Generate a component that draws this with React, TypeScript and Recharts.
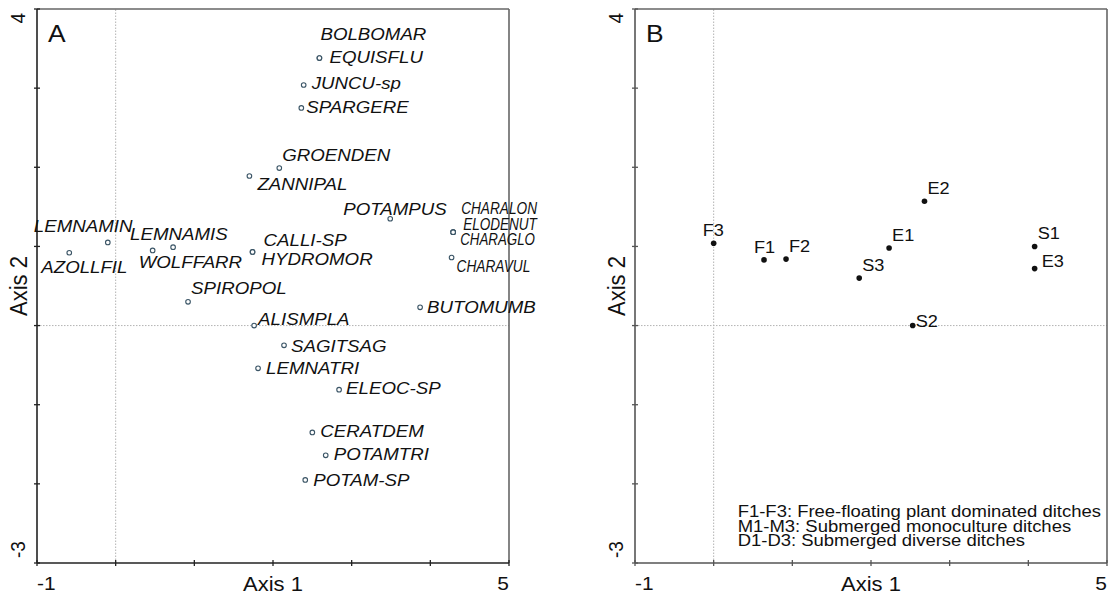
import { ScatterChart, Scatter, XAxis, YAxis, ReferenceLine } from 'recharts';

// Ordination scores, species (panel A)
const speciesNames = [
  'BOLBOMAR', 'EQUISFLU', 'JUNCU-sp', 'SPARGERE', 'GROENDEN', 'ZANNIPAL', 'POTAMPUS',
  'CHARALON', 'ELODENUT', 'CHARAGLO', 'CHARAVUL', 'LEMNAMIN', 'AZOLLFIL', 'LEMNAMIS',
  'WOLFFARR', 'CALLI-SP', 'HYDROMOR', 'SPIROPOL', 'BUTOMUMB', 'ALISMPLA', 'SAGITSAG',
  'LEMNATRI', 'ELEOC-SP', 'CERATDEM', 'POTAMTRI', 'POTAM-SP',
];
const speciesAxis1 = [
  2.59, 2.59, 2.39, 2.36, 2.08, 1.70, 3.49, 4.29, 4.29, 4.29, 4.27, -0.10, -0.59, 0.73,
  0.47, 1.74, 1.74, 0.92, 3.87, 1.76, 2.14, 1.81, 2.84, 2.50, 2.67, 2.41,
];
const speciesAxis2 = [
  3.38, 3.38, 3.04, 2.75, 1.99, 1.89, 1.35, 1.18, 1.18, 1.18, 0.86, 1.05, 0.92, 0.99,
  0.95, 0.93, 0.93, 0.30, 0.23, 0.00, -0.25, -0.54, -0.81, -1.35, -1.64, -1.95,
];

// Ordination scores, sites (panel B)
const siteNames = ['F1', 'F2', 'F3', 'E1', 'E2', 'E3', 'S1', 'S2', 'S3'];
const siteAxis1 = [0.64, 0.92, 0.0, 2.23, 2.68, 4.08, 4.08, 2.53, 1.85];
const siteAxis2 = [0.83, 0.84, 1.04, 0.98, 1.57, 0.72, 1.00, 0.0, 0.60];

const xTicks = [-1, 0, 1, 2, 3, 4, 5];
const yTicks = [-3, -2, -1, 0, 1, 2, 3, 4];

const legendLines = [
  'F1-F3: Free-floating plant dominated ditches',
  'M1-M3: Submerged monoculture ditches',
  'D1-D3: Submerged diverse ditches',
];

const speciesData = speciesNames.map((name, i) => ({ name, x: speciesAxis1[i], y: speciesAxis2[i] }));
const siteData = siteNames.map((name, i) => ({ name, x: siteAxis1[i], y: siteAxis2[i] }));

// label offsets from the point (text start, baseline)
const speciesLabelPos: Record<string, [number, number]> = {
  BOLBOMAR: [1, -18], EQUISFLU: [10, 5], 'JUNCU-sp': [8, 4], SPARGERE: [5, 5],
  GROENDEN: [3, -7], ZANNIPAL: [8, 14], POTAMPUS: [-47, -4], CHARALON: [8, -18],
  ELODENUT: [10, -2], CHARAGLO: [7, 13], CHARAVUL: [5, 14], LEMNAMIN: [-74, -10],
  AZOLLFIL: [-28, 20], LEMNAMIS: [-43, -7], WOLFFARR: [-14, 18], 'CALLI-SP': [11, -6],
  HYDROMOR: [9, 13], SPIROPOL: [3, -8], BUTOMUMB: [7, 6], ALISMPLA: [4, -1],
  SAGITSAG: [7, 7], LEMNATRI: [8, 6], 'ELEOC-SP': [7, 4], CERATDEM: [8, 5],
  POTAMTRI: [8, 5], 'POTAM-SP': [8, 6],
};
// labels squeezed against the right border (width before the x stretch)
const squeezedWidth: Record<string, number> = {
  CHARALON: 69, ELODENUT: 67, CHARAGLO: 68, CHARAVUL: 67,
};
const siteLabelPos: Record<string, [number, number]> = {
  F1: [-10, -7], F2: [3, -7], F3: [-11, -7], E1: [3, -7], E2: [3, -7],
  E3: [7, -2], S1: [3, -7], S2: [3, 1], S3: [3, -7],
};

const FONT = '"Liberation Sans", Arial, sans-serif';
const SX = 1.1; // text is a little wide in this figure

type TxtProps = {
  x: number; y: number; size: number; children: any;
  anchor?: 'start' | 'middle' | 'end'; italic?: boolean; rotate?: boolean; fit?: number;
};

const Txt = ({ x, y, size, children, anchor = 'start', italic, rotate, fit }: TxtProps) => (
  <text
    transform={`translate(${x},${y}) scale(${SX},1)${rotate ? ' rotate(-90)' : ''}`}
    fontFamily={FONT}
    fontSize={size}
    fontStyle={italic ? 'italic' : 'normal'}
    textAnchor={anchor}
    fill="#111"
    textLength={fit}
    lengthAdjust={fit ? 'spacingAndGlyphs' : undefined}
  >
    {children}
  </text>
);

const SpeciesPoint = (props: any) => {
  const { cx, cy, payload } = props;
  const [dx, dy] = speciesLabelPos[payload.name] ?? [6, 5];
  return (
    <g>
      <circle cx={cx} cy={cy} r={2.3} fill="#fff" stroke="#3b5566" strokeWidth={1.1} />
      <Txt x={cx + dx} y={cy + dy} size={17} italic fit={squeezedWidth[payload.name]}>
        {payload.name}
      </Txt>
    </g>
  );
};

const SitePoint = (props: any) => {
  const { cx, cy, payload } = props;
  const [dx, dy] = siteLabelPos[payload.name] ?? [3, -7];
  return (
    <g>
      <circle cx={cx} cy={cy} r={2.8} fill="#111" />
      <Txt x={cx + dx} y={cy + dy} size={16.5}>{payload.name}</Txt>
    </g>
  );
};

const makeXTick = (color: string) => (props: any) => {
  const { x, y, payload } = props;
  return (
    <g>
      <line x1={x} x2={x} y1={y - 3} y2={y + 3} stroke={color} strokeWidth={1.3} />
      {payload.value === -1 && <Txt x={x} y={y + 27} size={19}>-1</Txt>}
      {payload.value === 5 && <Txt x={x} y={y + 27} size={19} anchor="end">5</Txt>}
    </g>
  );
};

const makeYTick = (color: string) => (props: any) => {
  const { x, y, payload } = props;
  return (
    <g>
      <line x1={x - 3} x2={x + 3} y1={y} y2={y} stroke={color} strokeWidth={1.3} />
      {payload.value === 4 && <Txt x={x - 12} y={y + 4} size={19} anchor="end" rotate>4</Txt>}
      {payload.value === -3 && <Txt x={x - 12} y={y - 5} size={19} rotate>-3</Txt>}
    </g>
  );
};

const xTitle = ({ viewBox }: any) => (
  <Txt x={viewBox.x + viewBox.width / 2} y={viewBox.y + 28} size={20} anchor="middle">Axis 1</Txt>
);
const yTitle = ({ viewBox }: any) => (
  <Txt x={viewBox.x + viewBox.width - 10} y={viewBox.y + viewBox.height / 2} size={22} anchor="middle" rotate>
    Axis 2
  </Txt>
);
const panelLetter = (letter: string) => ({ viewBox }: any) => (
  <Txt x={viewBox.x + 11} y={viewBox.y + 33} size={24}>{letter}</Txt>
);
const legendBlock = ({ viewBox }: any) => (
  <g>
    {legendLines.map((line, i) => (
      <Txt key={line} x={viewBox.x + 24} y={viewBox.y + 508 + i * 14.5} size={16.8}>{line}</Txt>
    ))}
  </g>
);

type PanelProps = {
  data: { name: string; x: number; y: number }[];
  width: number;
  margin: { top: number; right: number; bottom: number; left: number };
  axisColor: string;
  letter: string;
  shape: (p: any) => any;
  legend?: boolean;
};

const Panel = ({ data, width, margin, axisColor, letter, shape, legend }: PanelProps) => (
  <ScatterChart width={width} height={591} margin={margin}>
    <XAxis
      type="number"
      dataKey="x"
      domain={[-1, 5]}
      ticks={xTicks}
      interval={0}
      height={1}
      tickSize={0}
      tickMargin={0}
      tickLine={false}
      axisLine={{ stroke: axisColor, strokeWidth: 1.6 }}
      tick={makeXTick(axisColor)}
      label={{ content: xTitle }}
    />
    <YAxis
      type="number"
      dataKey="y"
      domain={[-3, 4]}
      ticks={yTicks}
      interval={0}
      width={1}
      tickSize={0}
      tickMargin={0}
      tickLine={false}
      axisLine={{ stroke: axisColor, strokeWidth: 1.6 }}
      tick={makeYTick(axisColor)}
      label={{ content: yTitle }}
    />
    <ReferenceLine x={0} stroke="#b4b4b4" strokeDasharray="1.5 1.5" label={legend ? { content: legendBlock } : undefined} />
    <ReferenceLine y={0} stroke="#b4b4b4" strokeDasharray="1.5 1.5" />
    <ReferenceLine y={4} stroke="#666" strokeWidth={1.6} label={{ content: panelLetter(letter) }} />
    <ReferenceLine x={5} stroke="#666" strokeWidth={1.6} />
    <Scatter data={data} shape={shape} isAnimationActive={false} />
  </ScatterChart>
);

export default function App() {
  return (
    <div style={{ position: 'absolute', left: 0, top: 0, width: 1110, height: 591, background: '#fff' }}>
      <div style={{ position: 'absolute', left: 0, top: 0 }}>
        <Panel
          data={speciesData}
          width={560}
          margin={{ top: 9, right: 51, bottom: 27, left: 36 }}
          axisColor="#222"
          letter="A"
          shape={SpeciesPoint}
        />
      </div>
      <div style={{ position: 'absolute', left: 560, top: 0 }}>
        <Panel
          data={siteData}
          width={550}
          margin={{ top: 9, right: 3, bottom: 27, left: 74 }}
          axisColor="#555"
          letter="B"
          shape={SitePoint}
          legend
        />
      </div>
    </div>
  );
}
